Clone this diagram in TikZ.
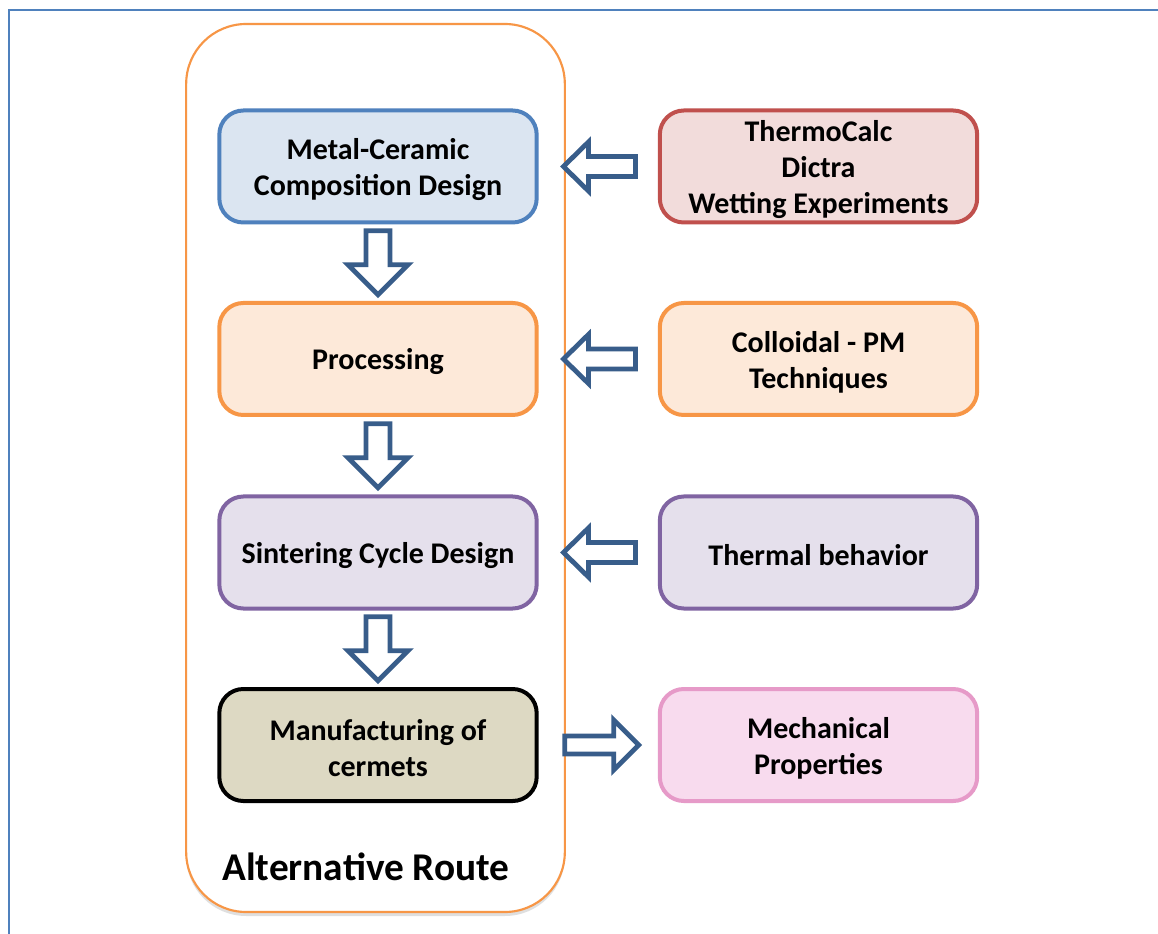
\documentclass[tikz,border=0pt]{standalone}
\usepackage{fontspec}
\setmainfont{Carlito}
\usetikzlibrary{calc,shadows}
\definecolor{frameblue}{HTML}{4F81BD}
\definecolor{contorange}{HTML}{F79646}
\definecolor{bluefill}{HTML}{DBE5F1}
\definecolor{orangefill}{HTML}{FDE9D9}
\definecolor{purpleline}{HTML}{8064A2}
\definecolor{purplefill}{HTML}{E5E0EC}
\definecolor{olivefill}{HTML}{DDD9C3}
\definecolor{redline}{HTML}{C0504D}
\definecolor{redfill}{HTML}{F2DCDB}
\definecolor{pinkline}{HTML}{E69AC8}
\definecolor{pinkfill}{HTML}{F8DBEE}
\definecolor{arrowblue}{HTML}{385D8A}
\tikzset{
  box/.style={rounded corners=18pt, line width=3pt, minimum width=238pt, minimum height=84pt,
    inner sep=0pt},
  txt/.style={align=center, font=\fontsize{22.5}{27}\selectfont\bfseries, inner sep=0pt},
  bluebox/.style={box, draw=frameblue, fill=bluefill},
  orangebox/.style={box, draw=contorange, fill=orangefill},
  purplebox/.style={box, draw=purpleline, fill=purplefill},
  olivebox/.style={box, draw=black, fill=olivefill},
  redbox/.style={box, draw=redline, fill=redfill},
  pinkbox/.style={box, draw=pinkline, fill=pinkfill},
  arrowline/.style={draw=arrowblue, fill=white, line width=3.6pt, line join=miter},
  pics/blockarr/.style n args={4}{code={
    \path[arrowline] (-#1/2,-#3/2) -- (#1/2-#4,-#3/2) -- (#1/2-#4,-#2/2) -- (#1/2,0)
      -- (#1/2-#4,#2/2) -- (#1/2-#4,#3/2) -- (-#1/2,#3/2) -- cycle;
  }}
}
\begin{document}
\begin{tikzpicture}[x=0.75pt,y=-0.75pt]
\useasboundingbox[fill=white] (0,0) rectangle (1158,934);
% outer frame
\draw[frameblue, line width=1.5pt] (9,960) -- (9,10) -- (1180,10);
% container
\node[draw=contorange, line width=1.6pt, fill=white, rounded corners=45pt,
  minimum width=284pt, minimum height=666pt, inner sep=0pt,
  drop shadow={opacity=0.25, shadow xshift=0pt, shadow yshift=-3pt}] (cont) at (375.5,468) {};
% left boxes
\node[bluebox] (b1) at (378,166.5) {};
\node[orangebox] (b2) at (378,359) {};
\node[purplebox] (b3) at (378,552.5) {};
\node[olivebox] (b4) at (378,745) {};
% right boxes
\node[redbox] (r1) at (818.5,166.5) {};
\node[orangebox] (r2) at (818.5,359) {};
\node[purplebox] (r3) at (818.5,552.5) {};
\node[pinkbox] (r4) at (818.5,745) {};
% texts
\node[txt] (t1) at ($(b1.center)+(0,3)$) {Metal-Ceramic\\Composition Design};
\node[txt] (t2) at ($(b2.center)+(0,3)$) {Processing};
\node[txt] (t3) at ($(b3.center)+(0,3)$) {Sintering Cycle Design};
\node[txt] (t4) at ($(b4.center)+(0,3)$) {Manufacturing of\\cermets};
\node[txt] (u1) at ($(r1.center)+(0,3)$) {ThermoCalc\\Dictra\\Wetting Experiments};
\node[txt] (u2) at ($(r2.center)+(0,3)$) {Colloidal - PM\\Techniques};
\node[txt] (u3) at ($(r3.center)+(0,3)$) {Thermal behavior};
\node[txt] (u4) at ($(r4.center)+(0,3)$) {Mechanical\\Properties};
% container label
\node[font=\fontsize{29.5}{34}\selectfont\bfseries, inner sep=0pt] (lab) at (366,867) {Alternative Route};
% down arrows
\pic[rotate=-90] at ($(b1.south)!0.5!(b2.north)$) {blockarr={64}{60}{24}{30}};
\pic[rotate=-90] at ($(b2.south)!0.5!(b3.north)$) {blockarr={64}{60}{24}{30}};
\pic[rotate=-90] at ($(b3.south)!0.5!(b4.north)$) {blockarr={64}{60}{24}{30}};
% left arrows
\pic[rotate=180] at ($(b1.east)!0.51!(r1.west)$) {blockarr={72}{49}{20}{25}};
\pic[rotate=180] at ($(b2.east)!0.51!(r2.west)$) {blockarr={72}{49}{20}{25}};
\pic[rotate=180] at ($(b3.east)!0.51!(r3.west)$) {blockarr={72}{49}{20}{25}};
% right arrow
\pic at ($(b4.east)!0.53!(r4.west)$) {blockarr={74}{50}{18}{25}};
\end{tikzpicture}
\end{document}
